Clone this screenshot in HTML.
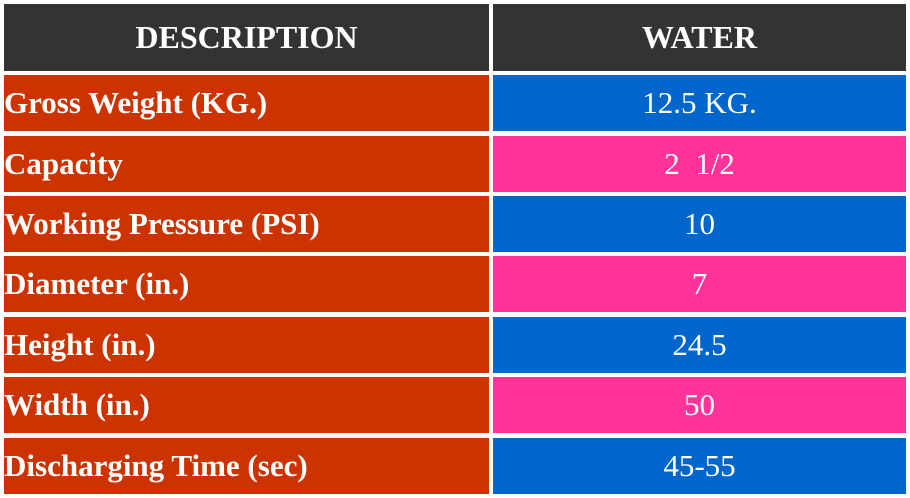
<!DOCTYPE html>
<html><head><meta charset="utf-8"><style>
body{margin:0;width:910px;height:498px;background:#fff;position:relative;overflow:hidden;font-family:"Liberation Serif",serif;}
.c{position:absolute;color:#fff;display:flex;align-items:center;font-size:31px;box-sizing:border-box;}
.h{background:#333;font-weight:bold;justify-content:center;top:4px;height:67px;font-size:32px;}
.l{background:#cc3300;font-weight:bold;left:4px;width:485px;padding-left:0;}
.r{left:493px;width:413px;justify-content:center;}
.b{background:#0066cc}.p{background:#ff3399}
</style></head><body>
<div class="c h" style="left:4px;width:485px">DESCRIPTION</div>
<div class="c h" style="left:493px;width:413px">WATER</div>
<script>
const labels=["Gross Weight (KG.)","Capacity","Working Pressure (PSI)","Diameter (in.)","Height (in.)","Width (in.)","Discharging Time (sec)"];
const values=["12.5 KG.","2&nbsp;&nbsp;1/2","10","7","24.5","50","45-55"];
const tops=[75,136,196,256,317,377,438];
labels.forEach((t,i)=>{
 const a=document.createElement('div');a.className='c l';a.style.top=tops[i]+'px';a.style.height='56px';a.textContent=t;
 
 
 document.body.appendChild(a);
 const b=document.createElement('div');b.className='c r '+(i%2?'p':'b');b.style.top=tops[i]+'px';b.style.height='56px';b.innerHTML=values[i];
 
 
 document.body.appendChild(b);
});
</script>
</body></html>
